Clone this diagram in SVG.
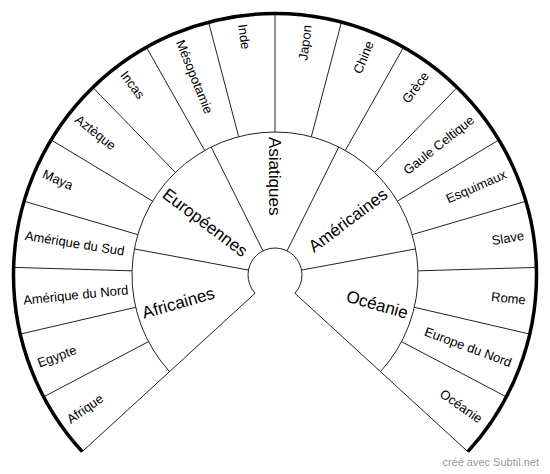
<svg xmlns="http://www.w3.org/2000/svg" width="550" height="474" viewBox="0 0 550 474">
<style>
.ln{fill:none;stroke:#222;stroke-width:1}
.rim{fill:none;stroke:#000;stroke-width:3.5}
.o{font-family:"Liberation Sans",Arial,sans-serif;font-size:13px;fill:#000}
.m{font-family:"Liberation Sans",Arial,sans-serif;font-size:17px;fill:#000}
.s{text-anchor:start}
.e{text-anchor:end}
</style>
<rect width="550" height="474" fill="#fff"/>
<g id="connectors">
<path class="ln" d="M255.09,293.24 A27,27 0 1 1 294.91,293.24"/>
<path class="ln" d="M169.57,371.61 A143,143 0 1 1 380.43,371.61"/>
<path class="ln" d="M255.09,293.24 L82.2,451.67 M294.91,293.24 L467.8,451.67"/>
<path class="ln" d="M248.45,270.08 L134.40,248.94 M262.95,250.84 L211.19,147.03 M287.05,250.84 L338.81,147.03 M301.55,270.08 L415.60,248.94"/>
<path class="ln" d="M148.48,341.64 L43.63,396.87 M135.70,307.31 L20.26,334.08 M132.06,270.84 L13.61,267.40 M137.81,234.65 L24.13,201.22 M152.56,201.12 L51.10,139.90 M175.36,172.42 L92.80,87.42 M204.71,150.47 L146.46,47.27 M238.66,136.69 L208.55,22.09 M275,132 L275,13.5 M311.34,136.69 L341.45,22.09 M345.29,150.47 L403.54,47.27 M374.64,172.42 L457.20,87.42 M397.44,201.12 L498.90,139.90 M412.19,234.65 L525.87,201.22 M417.94,270.84 L536.39,267.40 M414.30,307.31 L529.74,334.08 M401.52,341.64 L506.37,396.87"/>
<path class="rim" d="M82.2,451.67 A261.5,261.5 0 1 1 467.8,451.67"/>
</g>
<g id="groups">
<g id="africaines"><text class="m s" x="137" y="275" dy="0.35em" transform="rotate(-16 275 275)">Africaines</text></g>
<g id="europeennes"><text class="m s" x="137" y="275" dy="0.35em" transform="rotate(37 275 275)">Européennes</text></g>
<g id="asiatiques"><text class="m s" x="137" y="275" dy="0.35em" transform="rotate(90 275 275)">Asiatiques</text></g>
<g id="americaines"><text class="m e" x="413" y="275" dy="0.35em" transform="rotate(-37 275 275)">Américaines</text></g>
<g id="oceanie-groupe"><text class="m e" x="413" y="275" dy="0.35em" transform="rotate(16 275 275)">Océanie</text></g>
</g>
<g id="peuples">
<g id="afrique"><text class="o s" x="22" y="275" dy="0.35em" transform="rotate(-35.139 275 275)">Afrique</text></g>
<g id="egypte"><text class="o s" x="22" y="275" dy="0.35em" transform="rotate(-20.417 275 275)">Egypte</text></g>
<g id="amerique-nord"><text class="o s" x="22" y="275" dy="0.35em" transform="rotate(-5.694 275 275)">Amérique du Nord</text></g>
<g id="amerique-sud"><text class="o s" x="22" y="275" dy="0.35em" transform="rotate(9.028 275 275)">Amérique du Sud</text></g>
<g id="maya"><text class="o s" x="22" y="275" dy="0.35em" transform="rotate(23.75 275 275)">Maya</text></g>
<g id="azteque"><text class="o s" x="22" y="275" dy="0.35em" transform="rotate(38.472 275 275)">Aztèque</text></g>
<g id="incas"><text class="o s" x="22" y="275" dy="0.35em" transform="rotate(53.194 275 275)">Incas</text></g>
<g id="mesopotamie"><text class="o s" x="22" y="275" dy="0.35em" transform="rotate(67.917 275 275)">Mésopotamie</text></g>
<g id="inde"><text class="o s" x="22" y="275" dy="0.35em" transform="rotate(82.639 275 275)">Inde</text></g>
<g id="japon"><text class="o e" x="527" y="275" dy="0.35em" transform="rotate(-82.639 275 275)">Japon</text></g>
<g id="chine"><text class="o e" x="527" y="275" dy="0.35em" transform="rotate(-67.917 275 275)">Chine</text></g>
<g id="grece"><text class="o e" x="527" y="275" dy="0.35em" transform="rotate(-53.194 275 275)">Grèce</text></g>
<g id="gaule-celtique"><text class="o e" x="527" y="275" dy="0.35em" transform="rotate(-38.472 275 275)">Gaule Celtique</text></g>
<g id="esquimaux"><text class="o e" x="527" y="275" dy="0.35em" transform="rotate(-23.75 275 275)">Esquimaux</text></g>
<g id="slave"><text class="o e" x="527" y="275" dy="0.35em" transform="rotate(-9.028 275 275)">Slave</text></g>
<g id="rome"><text class="o e" x="527" y="275" dy="0.35em" transform="rotate(5.694 275 275)">Rome</text></g>
<g id="europe-nord"><text class="o e" x="527" y="275" dy="0.35em" transform="rotate(20.417 275 275)">Europe du Nord</text></g>
<g id="oceanie"><text class="o e" x="527" y="275" dy="0.35em" transform="rotate(35.139 275 275)">Océanie</text></g>
</g>
<text x="539" y="466" text-anchor="end" font-family="'Liberation Sans',Arial,sans-serif" font-size="11" fill="#999">créé avec Subtil.net</text>
</svg>
